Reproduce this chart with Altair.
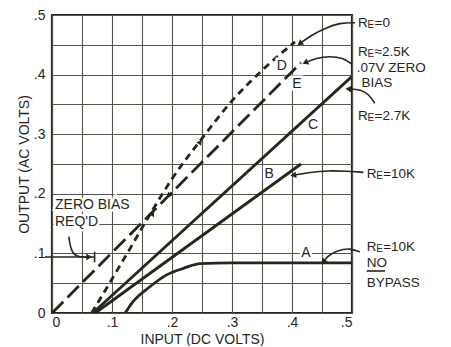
import math
import altair as alt
import pandas as pd

INK = "#26261c"
GRID = "#55554b"
FONT = "Liberation Sans"
NOTE_SIZE = 13.5

# ---------------- data ----------------
A_x = [0.122, 0.135, 0.163, 0.191, 0.219, 0.247, 0.30, 0.40, 0.50]
A_y = [0.0, 0.019, 0.044, 0.064, 0.075, 0.083, 0.084, 0.084, 0.084]
B_x = [0.072, 0.415]
B_y = [0.0, 0.25]
C_x = [0.068, 0.50]
C_y = [0.0, 0.397]
D_x = [0.066, 0.09, 0.11, 0.13, 0.163, 0.20, 0.25, 0.30, 0.35, 0.405]
D_y = [0.0, 0.04, 0.074, 0.108, 0.165, 0.225, 0.293, 0.356, 0.407, 0.455]
E_x = [0.0, 0.415]
E_y = [0.0, 0.42]

grid_values = [round(i * 0.05, 2) for i in range(11)]

letters = ["A", "B", "C", "D", "E"]
letter_x = [0.423, 0.362, 0.435, 0.383, 0.408]
letter_y = [0.100, 0.234, 0.316, 0.415, 0.385]

re_rest = ["=0", "\u22482.5K", "=2.7K", "=10K", "=10K"]
re_x = [0.510, 0.510, 0.510, 0.5245, 0.5245]
re_y = [0.487, 0.4379, 0.331, 0.2336, 0.1107]

note_text = [".07V ZERO", "BIAS", "NO", "BYPASS"]
note_x = [0.508, 0.516, 0.5245, 0.5245]
note_y = [0.4119, 0.3859, 0.0839, 0.0503]

zb_text = ["ZERO BIAS", "REQ'D"]
zb_x = [0.005, 0.005]
zb_y = [0.1806, 0.1527]

arrows = {
    "re0": [(0.505, 0.487), (0.48, 0.487), (0.455, 0.478), (0.432, 0.466), (0.413, 0.452)],
    "re25": [(0.499, 0.418), (0.485, 0.428), (0.463, 0.431), (0.44, 0.428), (0.422, 0.42)],
    "re27": [(0.538, 0.352), (0.528, 0.367), (0.515, 0.375), (0.494, 0.376)],
    "reB": [(0.519, 0.236), (0.49, 0.238), (0.46, 0.239), (0.43, 0.236), (0.402, 0.231)],
    "reA": [(0.513, 0.1025), (0.497, 0.109), (0.475, 0.105), (0.46, 0.096), (0.452, 0.086)],
    "zb": [(0.028, 0.128), (0.031, 0.108), (0.037, 0.097), (0.046, 0.094), (0.062, 0.094)],
}

zb_line_x = [-0.012, 0.071]
zb_line_y = 0.094
zb_bar_y = [0.085, 0.103]
no_line_x = [0.5245, 0.555]
no_line_y = 0.0705

PX_X = 600.0
PX_Y = 596.0

# ---------------- helpers ----------------
XS = alt.Scale(domain=[0, 0.5], nice=False, zero=False)
YS = alt.Scale(domain=[0, 0.5], nice=False, zero=False)


def X(field="x"):
    return alt.X(f"{field}:Q", scale=XS, title="INPUT (DC VOLTS)")


def Y(field="y"):
    return alt.Y(f"{field}:Q", scale=YS, title="OUTPUT (AC VOLTS)")


def curve(xs, ys, dash=None, interp="linear"):
    df = pd.DataFrame({"x": xs, "y": ys, "o": list(range(len(xs)))})
    kw = dict(color=INK, strokeWidth=2.8, interpolate=interp, strokeCap="butt")
    if dash:
        kw["strokeDash"] = dash
    return alt.Chart(df).mark_line(**kw).encode(x=X(), y=Y(), order="o:O")


layers = []

layers.append(curve(C_x, C_y))
layers.append(curve(A_x, A_y, interp="monotone"))
layers.append(curve(B_x, B_y))
layers.append(curve(D_x, D_y, dash=[7, 5], interp="monotone"))
layers.append(curve(E_x, E_y, dash=[16, 6]))

# annotation arrow paths
rows = []
heads = []
for name, pts in arrows.items():
    for i, (px, py) in enumerate(pts):
        rows.append({"g": name, "x": px, "y": py, "o": i})
    (x1, y1), (x2, y2) = pts[-2], pts[-1]
    dx = (x2 - x1) * PX_X
    dy = -(y2 - y1) * PX_Y
    ang = math.degrees(math.atan2(dx, -dy)) % 360
    heads.append({"x": x2, "y": y2, "ang": ang})

arrow_df = pd.DataFrame(rows)
layers.append(
    alt.Chart(arrow_df)
    .mark_line(color=INK, strokeWidth=1.6, interpolate="basis")
    .encode(x=X(), y=Y(), detail="g:N", order="o:O")
)
layers.append(
    alt.Chart(pd.DataFrame(heads))
    .mark_point(shape="triangle-up", filled=True, color=INK, size=45, opacity=1)
    .encode(x=X(), y=Y(), angle=alt.Angle("ang:Q", scale=None))
)

# small direction arrowheads on the D / E curves
dir_df = pd.DataFrame({"x": [0.194, 0.168, 0.247], "y": [0.197, 0.167, 0.287], "ang": [225, 32, 36]})
layers.append(
    alt.Chart(dir_df)
    .mark_point(shape="triangle-up", filled=True, color=INK, size=35, opacity=1)
    .encode(x=X(), y=Y(), angle=alt.Angle("ang:Q", scale=None))
)

# zero-bias horizontal line + end bar, underline of NO
seg_df = pd.DataFrame({
    "x": [zb_line_x[0], zb_line_x[1], no_line_x[0]],
    "x2": [zb_line_x[1], zb_line_x[1], no_line_x[1]],
    "y": [zb_line_y, zb_bar_y[0], no_line_y],
    "y2": [zb_line_y, zb_bar_y[1], no_line_y],
})
layers.append(
    alt.Chart(seg_df)
    .mark_rule(color=INK, strokeWidth=1.6)
    .encode(x=X(), x2="x2:Q", y=Y(), y2="y2:Q")
)

# text with white halo inside the plot
letters_df = pd.DataFrame({"t": letters, "x": letter_x, "y": letter_y})
zb_df = pd.DataFrame({"t": zb_text, "x": zb_x, "y": zb_y})
for df, align in [(letters_df, "center"), (zb_df, "left")]:
    layers.append(
        alt.Chart(df)
        .mark_text(font=FONT, fontSize=14, align=align, baseline="middle",
                   stroke="white", strokeWidth=5, fill="white")
        .encode(x=X(), y=Y(), text="t:N")
    )
    layers.append(
        alt.Chart(df)
        .mark_text(font=FONT, fontSize=14, align=align, baseline="middle", color=INK)
        .encode(x=X(), y=Y(), text="t:N")
    )

# R_E labels: "R", subscript "E", rest
re_df = pd.DataFrame({"r": ["R"] * len(re_rest), "e": ["E"] * len(re_rest), "t": re_rest, "x": re_x, "y": re_y})
layers.append(
    alt.Chart(re_df)
    .mark_text(font=FONT, fontSize=NOTE_SIZE, align="left", baseline="middle", color=INK)
    .encode(x=X(), y=Y(), text="r:N")
)
layers.append(
    alt.Chart(re_df)
    .mark_text(font=FONT, fontSize=10, align="left", baseline="middle", color=INK, dx=9.5, dy=2)
    .encode(x=X(), y=Y(), text="e:N")
)
layers.append(
    alt.Chart(re_df)
    .mark_text(font=FONT, fontSize=NOTE_SIZE, align="left", baseline="middle", color=INK, dx=16.5)
    .encode(x=X(), y=Y(), text="t:N")
)

note_df = pd.DataFrame({"t": note_text, "x": note_x, "y": note_y})
layers.append(
    alt.Chart(note_df)
    .mark_text(font=FONT, fontSize=NOTE_SIZE, align="left", baseline="middle", color=INK)
    .encode(x=X(), y=Y(), text="t:N")
)

label_expr = ("datum.value == 0 ? '0' : (round(datum.value * 20) % 2 == 0 ? "
              "replace(format(datum.value, '.1f'), '0.', '.') : '')")

chart = (
    alt.layer(*layers)
    .properties(width=300, height=298, autosize=alt.AutoSizeParams(type="none"),
                padding={"left": 44, "top": 7, "right": 85, "bottom": 33})
    .configure(background="white")
    .configure_view(stroke=INK, strokeWidth=2.2)
    .configure_axis(
        values=grid_values,
        grid=True,
        gridColor=GRID,
        gridWidth=1.1,
        gridOpacity=1,
        ticks=False,
        domain=False,
        labelExpr=label_expr,
        labelFont=FONT,
        labelFontSize=14,
        labelColor=INK,
        titleFont=FONT,
        titleFontSize=14,
        titleFontWeight="normal",
        titleColor=INK,
    )
    .configure_axisX(labelPadding=2, titleY=26.5, titleBaseline="middle")
    .configure_axisY(labelPadding=7, titlePadding=2)
)

chart.save("out.html", embed_options={"renderer": "svg", "actions": False})
